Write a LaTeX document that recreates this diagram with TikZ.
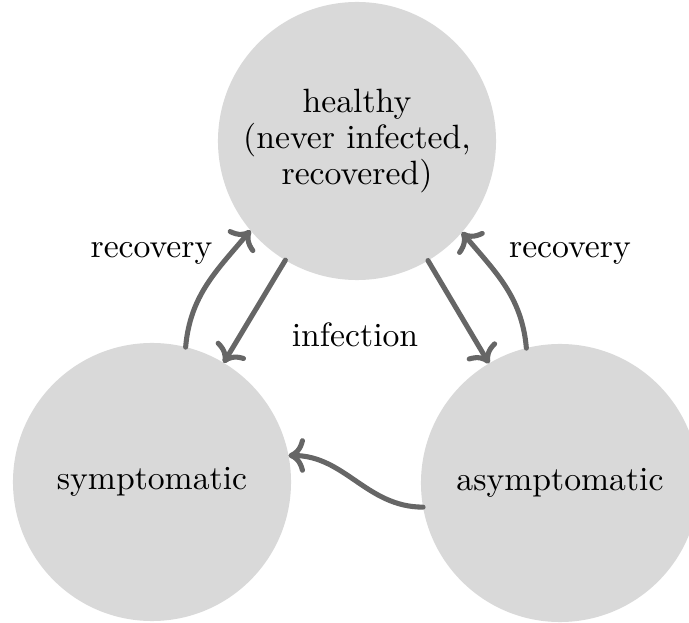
\documentclass[tikz,border=0pt]{standalone}
\usepackage{tikz}
\usetikzlibrary{arrows.meta}
\colorlet{CircleGray}{black!15}
\colorlet{ArrowGray}{black!60}

\begin{document}
\begin{tikzpicture}[x=0.2967pt,y=0.2967pt,
        compartment/.style={circle,fill=CircleGray,minimum size=82.5pt,inner sep=0pt,outer sep=0pt,
            align=center,font=\fontsize{10}{10.7}\selectfont},
        flow/.style={line width=1.5pt,ArrowGray,line cap=round,arrows={-Computer Modern Rightarrow[round]}}]
                    \useasboundingbox (0,0) rectangle (689,623);
%                    compartments
                    \node[compartment] (healthy) at (357,482) {healthy\\(never infected,\\recovered)};
                    \node[compartment] (symptomatic) at (152,141) {symptomatic};
                    \node[compartment] (asymptomatic) at (560,140) {asymptomatic};

%                    labels
                    \node[anchor=base] (recleft) at (151.5,365) {recovery};
                    \node[anchor=base] (recright) at (570,365) {recovery};
                    \node[anchor=base] (infection) at (355,276) {infection};

%                    transitions
                    \draw[flow] (healthy) -- (symptomatic);
                    \draw[flow] (healthy) -- (asymptomatic);
                    \draw[flow] (symptomatic.76) to[out=85,in=230] (healthy.220);
                    \draw[flow] (asymptomatic.104) to[out=95,in=310] (healthy.319);
                    \draw[flow] (asymptomatic.190) to[out=180,in=0] (symptomatic.11);
                \end{tikzpicture}
\end{document}
